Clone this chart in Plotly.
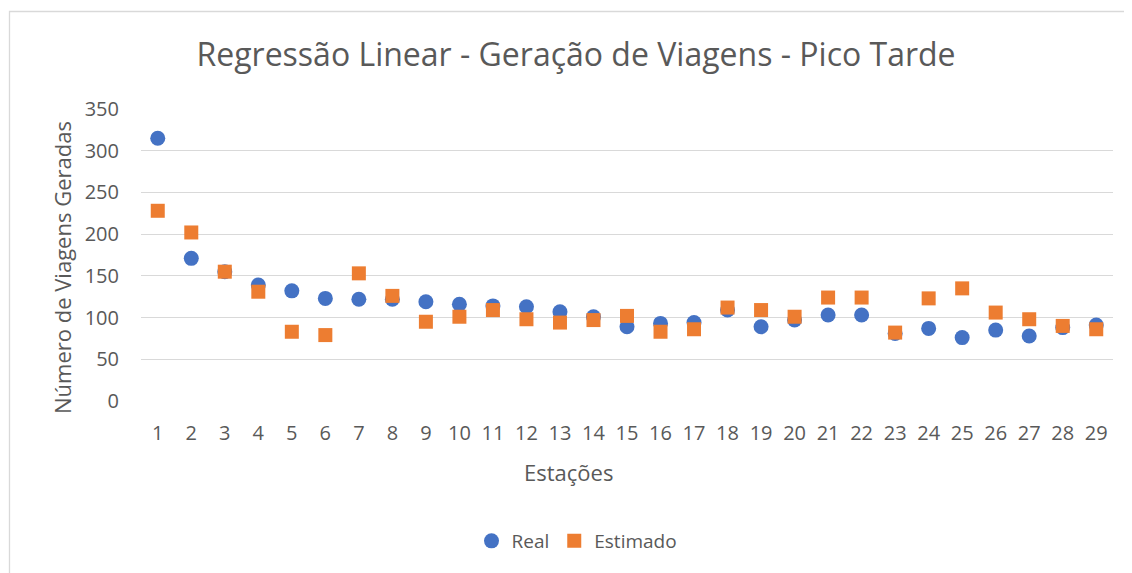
import plotly.graph_objects as go

estacoes = list(range(1, 30))
real = [315, 171, 155, 139, 132, 123, 122, 122, 119, 116,
        114, 113, 107, 101, 89, 93, 94, 109, 89, 97,
        103, 103, 81, 87, 76, 85, 78, 88, 91]
estimado = [228, 202, 155, 131, 83, 79, 153, 126, 95, 101,
            109, 98, 94, 97, 102, 83, 86, 112, 109, 101,
            124, 124, 82, 123, 135, 106, 98, 90, 86]

TXT = "#595959"
FONT = "Open Sans"
OFF = 8  # page body margin in the browser

fig = go.Figure()
fig.add_trace(go.Scatter(x=estacoes, y=real, mode="markers", name="Real",
                         marker=dict(symbol="circle", size=15, color="#4472C4")))
fig.add_trace(go.Scatter(x=estacoes, y=estimado, mode="markers", name="Estimado",
                         marker=dict(symbol="square", size=14, color="#ED7D31")))

W, H = 1132, 573
pw, ph = 972, 292
L, T = 141 - OFF, 109 - OFF
R, B = W - L - pw, H - T - ph

def px_x(x):
    return (x - OFF - L) / pw

def px_y(y):
    return (T + ph - (y - OFF)) / ph

fig.update_layout(
    width=W, height=H,
    margin=dict(l=L, r=R, t=T, b=B),
    paper_bgcolor="white", plot_bgcolor="white",
    font=dict(family=FONT, color=TXT, size=20),
    title=dict(text="Regressão Linear - Geração de Viagens - Pico Tarde",
               xref="container", yref="container",
               x=(576 - OFF) / W, xanchor="center", y=1 - (55 - OFF) / H, yanchor="middle",
               font=dict(size=32, color=TXT, family=FONT)),
    showlegend=True,
    legend=dict(orientation="h", x=px_x(577), xanchor="center",
                y=px_y(541), yanchor="middle", font=dict(size=19, color=TXT),
                itemwidth=30, tracegroupgap=0),
    xaxis=dict(range=[0.5, 29.5], tickmode="array", tickvals=estacoes,
               ticktext=[str(v) for v in estacoes], showgrid=False, zeroline=False,
               showline=False, ticks="", ticklabelstandoff=18,
               tickfont=dict(size=20, color=TXT), fixedrange=True),
    yaxis=dict(range=[0, 350], tickvals=[0, 50, 100, 150, 200, 250, 300, 350],
               showgrid=True, gridcolor="#D9D9D9", gridwidth=1.3, zeroline=False,
               showline=False, ticks="", ticklabelstandoff=21,
               tickfont=dict(size=20, color=TXT), fixedrange=True),
    annotations=[
        dict(text="Número de Viagens Geradas", xref="paper", yref="paper",
             x=px_x(62), y=px_y(268), xanchor="center", yanchor="middle",
             textangle=-90, showarrow=False, font=dict(size=22, color=TXT)),
        dict(text="Estações", xref="paper", yref="paper",
             x=px_x(568), y=px_y(472), xanchor="center", yanchor="middle",
             showarrow=False, font=dict(size=22, color=TXT)),
    ],
    shapes=[
        dict(type="rect", xref="paper", yref="paper",
             x0=px_x(9.5), x1=px_x(1200), y0=px_y(11.5), y1=px_y(700),
             line=dict(color="#D9D9D9", width=1.3), layer="below"),
    ],
)

fig.write_html("out.html")
